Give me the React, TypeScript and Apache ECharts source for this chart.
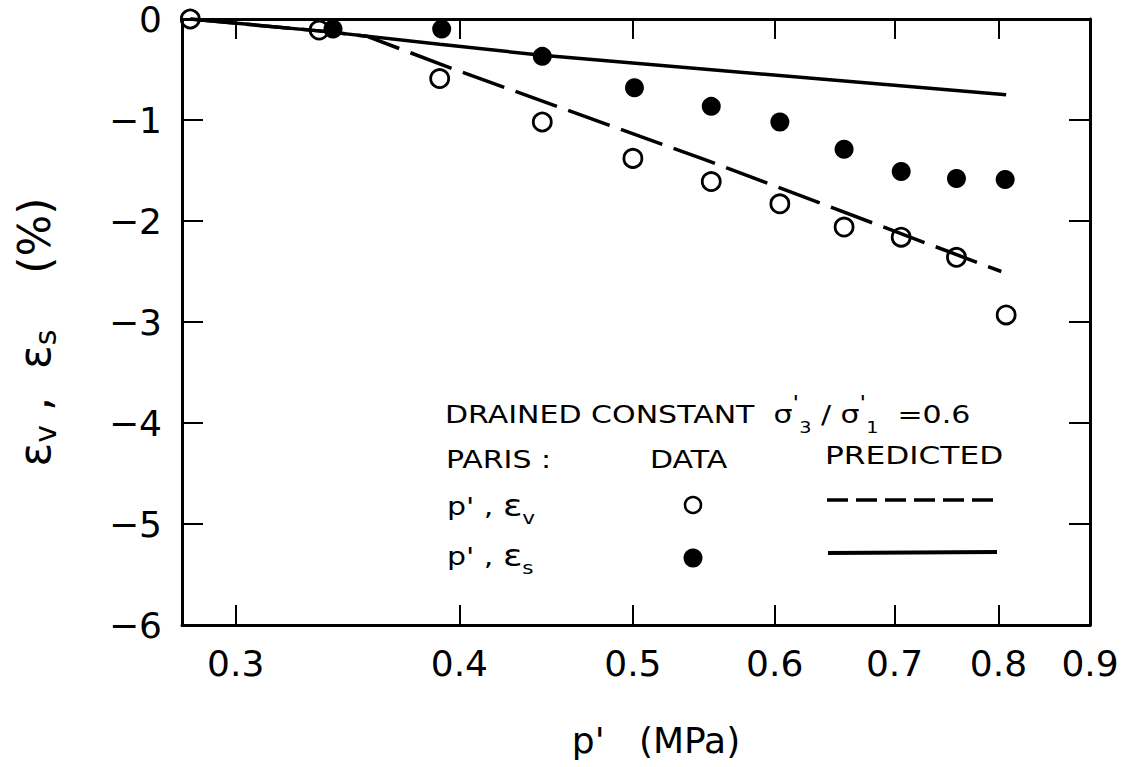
import React, { useEffect, useRef } from 'react';
import * as echarts from 'echarts';

// Axis ticks
const pTicks = [0.3, 0.4, 0.5, 0.6, 0.7, 0.8, 0.9];
const strainMin = -6;
const strainMax = 0;

// Measured data (Paris, drained constant sigma3'/sigma1' = 0.6)
const evDataP = [0.283, 0.334, 0.39, 0.445, 0.5, 0.553, 0.604, 0.656, 0.706, 0.758, 0.808];
const evDataVal = [0, -0.11, -0.59, -1.02, -1.38, -1.61, -1.83, -2.06, -2.16, -2.36, -2.93];
const esDataP = [0.34, 0.391, 0.445, 0.501, 0.553, 0.604, 0.656, 0.706, 0.758, 0.807];
const esDataVal = [-0.1, -0.1, -0.37, -0.68, -0.865, -1.02, -1.29, -1.51, -1.58, -1.59];

// Predicted curves
const evPredP = [0.283, 0.335, 0.355, 0.399, 0.548, 0.803];
const evPredVal = [0, -0.12, -0.17, -0.51, -1.39, -2.5];
const esPredP = [0.283, 0.335, 0.39, 0.445, 0.808];
const esPredVal = [0, -0.12, -0.25, -0.36, -0.75];

const FONT = 'DejaVu Sans';

const zip = (xs: number[], ys: number[]) => xs.map((x, i) => [x, ys[i]]);

export default function App() {
  const ref = useRef<HTMLDivElement>(null);

  useEffect(() => {
    if (!ref.current) return;
    const chart = echarts.init(ref.current, undefined, { renderer: 'svg' });

    const axisLine = { show: true, onZero: false, lineStyle: { color: '#000', width: 3 } };
    const tickStyle = { color: '#000', width: 2 };

    const option: any = {
      animation: false,
      backgroundColor: '#fff',
      grid: { left: 182, right: 50, top: 19, bottom: 142, containLabel: false },
      xAxis: [
        {
          type: 'log',
          logBase: 10,
          min: 0.28,
          max: 0.9,
          position: 'bottom',
          axisLine,
          axisTick: { show: true, inside: true, length: 20, lineStyle: tickStyle, customValues: pTicks },
          minorTick: { show: false },
          splitLine: { show: false },
          axisLabel: {
            customValues: pTicks,
            formatter: (v: number) => v.toFixed(1),
            fontSize: 36,
            fontFamily: FONT,
            color: '#000',
            margin: 20,
          },
          name: "p'   (MPa)",
          nameLocation: 'middle',
          nameGap: 97,
          nameTextStyle: { fontSize: 36, fontFamily: FONT, color: '#000', padding: [0, 0, 0, 40] },
        },
        {
          type: 'log',
          logBase: 10,
          min: 0.28,
          max: 0.9,
          position: 'top',
          axisLine,
          axisTick: { show: true, inside: true, length: 20, lineStyle: tickStyle, customValues: pTicks },
          minorTick: { show: false },
          splitLine: { show: false },
          axisLabel: { show: false },
        },
      ],
      yAxis: [
        {
          type: 'value',
          min: strainMin,
          max: strainMax,
          interval: 1,
          position: 'left',
          axisLine,
          axisTick: { show: true, inside: true, length: 21, lineStyle: tickStyle },
          splitLine: { show: false },
          axisLabel: {
            formatter: (v: number) => (v === 0 ? '0' : '\u2212' + Math.abs(v)),
            fontSize: 36,
            fontFamily: FONT,
            color: '#000',
            margin: 20,
          },
          name: '{e|\u03b5}{b|v}{e| ,  \u03b5}{b|s}{e|    (%)}',
          nameLocation: 'middle',
          nameRotate: 90,
          nameGap: 122,
          nameTextStyle: {
            color: '#000',
            fontFamily: FONT,
            padding: [0, 20, 0, 0],
            rich: {
              e: { fontSize: 44, lineHeight: 52, fontFamily: FONT, color: '#000' },
              b: { fontSize: 30, lineHeight: 30, fontFamily: FONT, color: '#000', verticalAlign: 'bottom' },
            },
          },
        },
        {
          type: 'value',
          min: strainMin,
          max: strainMax,
          interval: 1,
          position: 'right',
          axisLine,
          axisTick: { show: true, inside: true, length: 21, lineStyle: tickStyle },
          splitLine: { show: false },
          axisLabel: { show: false },
        },
      ],
      series: [
        {
          name: 'Predicted p\', \u03b5v',
          type: 'line',
          xAxisIndex: 0,
          yAxisIndex: 0,
          data: zip(evPredP, evPredVal),
          symbol: 'none',
          lineStyle: { color: '#000', width: 3.5, type: [44, 12] },
          z: 2,
          silent: true,
        },
        {
          name: 'Predicted p\', \u03b5s',
          type: 'line',
          xAxisIndex: 0,
          yAxisIndex: 0,
          data: zip(esPredP, esPredVal),
          symbol: 'none',
          lineStyle: { color: '#000', width: 3.5, type: 'solid' },
          z: 2,
          silent: true,
        },
        {
          name: 'Data p\', \u03b5v',
          type: 'scatter',
          xAxisIndex: 0,
          yAxisIndex: 0,
          data: zip(evDataP, evDataVal),
          symbol: 'circle',
          symbolSize: 18,
          itemStyle: { color: 'rgba(255,255,255,0)', borderColor: '#000', borderWidth: 2.8, opacity: 1 },
          z: 3,
          silent: true,
        },
        {
          name: 'Data p\', \u03b5s',
          type: 'scatter',
          xAxisIndex: 0,
          yAxisIndex: 0,
          data: zip(esDataP, esDataVal),
          symbol: 'circle',
          symbolSize: 19,
          itemStyle: { color: '#000', opacity: 1 },
          z: 3,
          silent: true,
        },
      ],
      graphic: [
        {
          type: 'text',
          x: 445,
          y: 414,
          scaleX: 1.2,
          style: {
            text: "{m|DRAINED CONSTANT  \u03c3}{p|'}{s|3}{m| / \u03c3}{p|'}{s|1}{m|  =0.6}",
            align: 'left',
            verticalAlign: 'middle',
            fill: '#000',
            rich: {
              m: { fontSize: 25, lineHeight: 44, fontFamily: FONT, fill: '#000' },
              p: { fontSize: 20, lineHeight: 34, fontFamily: FONT, fill: '#000', verticalAlign: 'top' },
              s: { fontSize: 16, lineHeight: 16, fontFamily: FONT, fill: '#000', verticalAlign: 'bottom' },
            },
          },
        },
        {
          type: 'text',
          x: 446,
          y: 459,
          scaleX: 1.2,
          style: { text: 'PARIS :', fontSize: 25, fontFamily: FONT, fill: '#000', align: 'left', verticalAlign: 'middle' },
        },
        {
          type: 'text',
          x: 650,
          y: 459,
          scaleX: 1.2,
          style: { text: 'DATA', fontSize: 25, fontFamily: FONT, fill: '#000', align: 'left', verticalAlign: 'middle' },
        },
        {
          type: 'text',
          x: 825,
          y: 456,
          scaleX: 1.25,
          style: { text: 'PREDICTED', fontSize: 25, fontFamily: FONT, fill: '#000', align: 'left', verticalAlign: 'middle' },
        },
        {
          type: 'text',
          x: 447,
          y: 506,
          scaleX: 1.2,
          style: {
            text: "{m|p' , }{e|\u03b5}{s|v}",
            align: 'left',
            verticalAlign: 'middle',
            fill: '#000',
            rich: {
              m: { fontSize: 25, lineHeight: 42, fontFamily: FONT, fill: '#000' },
              e: { fontSize: 30, lineHeight: 42, fontFamily: FONT, fill: '#000' },
              s: { fontSize: 18, lineHeight: 18, fontFamily: FONT, fill: '#000', verticalAlign: 'bottom' },
            },
          },
        },
        {
          type: 'text',
          x: 447,
          y: 556,
          scaleX: 1.2,
          style: {
            text: "{m|p' , }{e|\u03b5}{s|s}",
            align: 'left',
            verticalAlign: 'middle',
            fill: '#000',
            rich: {
              m: { fontSize: 25, lineHeight: 42, fontFamily: FONT, fill: '#000' },
              e: { fontSize: 30, lineHeight: 42, fontFamily: FONT, fill: '#000' },
              s: { fontSize: 18, lineHeight: 18, fontFamily: FONT, fill: '#000', verticalAlign: 'bottom' },
            },
          },
        },
        {
          type: 'circle',
          shape: { cx: 693, cy: 505, r: 8 },
          style: { fill: 'none', stroke: '#000', lineWidth: 2.5 },
        },
        {
          type: 'circle',
          shape: { cx: 693, cy: 558, r: 9.5 },
          style: { fill: '#000' },
        },
        {
          type: 'line',
          shape: { x1: 827, y1: 500, x2: 997, y2: 500 },
          style: { stroke: '#000', lineWidth: 3.5, lineDash: [21, 8] },
        },
        {
          type: 'line',
          shape: { x1: 828, y1: 553, x2: 997, y2: 552 },
          style: { stroke: '#000', lineWidth: 4 },
        },
      ],
    };

    chart.setOption(option);
    return () => chart.dispose();
  }, []);

  return (
    <div
      ref={ref}
      style={{ position: 'absolute', left: 0, top: 0, width: 1140, height: 767, background: '#fff' }}
    />
  );
}
